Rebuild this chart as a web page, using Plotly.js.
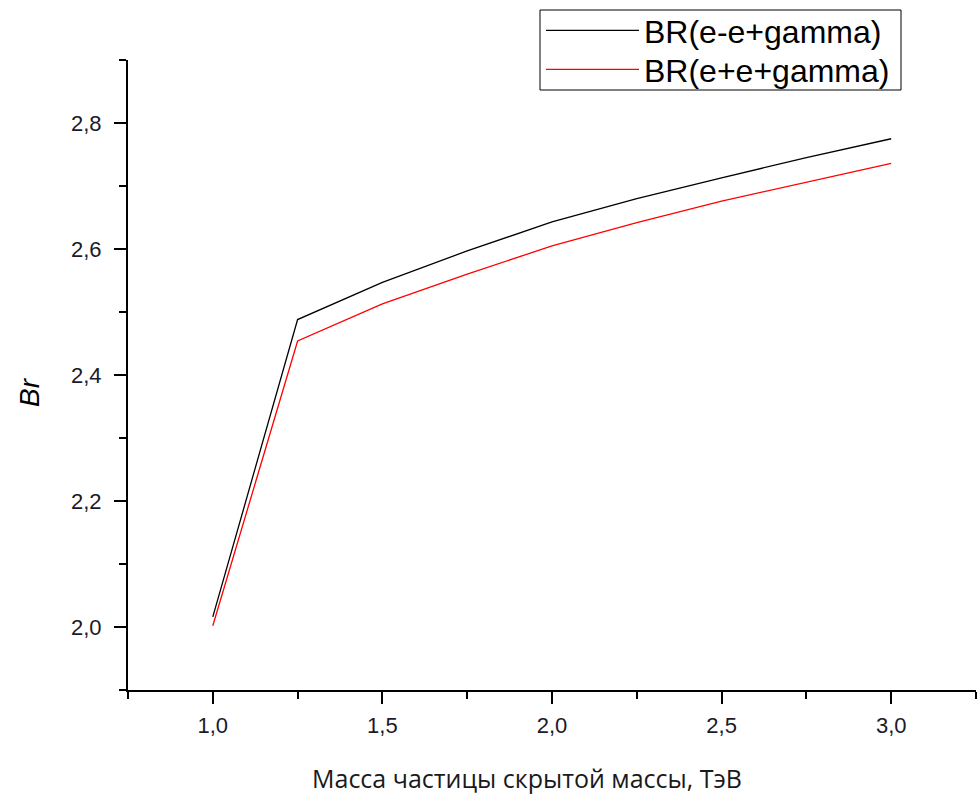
<!DOCTYPE html>
<html>
<head>
<meta charset="utf-8">
<script src="https://cdn.plot.ly/plotly-3.0.1.min.js"></script>
<style>html,body{margin:0;padding:0;background:#fff;}#chart{width:979px;height:796px;}</style>
</head>
<body>
<div id="chart"></div>
<script>
const mass = [1.0, 1.25, 1.5, 1.75, 2.0, 2.25, 2.5, 2.75, 3.0];
const brEminusEplus = [2.016, 2.488, 2.547, 2.597, 2.643, 2.680, 2.713, 2.745, 2.775];
const brEplusEplus = [2.002, 2.454, 2.513, 2.560, 2.605, 2.642, 2.676, 2.706, 2.736];
const seriesNames = ['BR(e-e+gamma)', 'BR(e+e+gamma)'];
const xTitle = 'Масса частицы скрытой массы, ТэВ';
const yTitle = '<i>Br</i>';

const traces = [
  {x: mass, y: brEminusEplus, name: seriesNames[0], mode: 'lines', legend: 'legend',
   line: {color: '#000000', width: 1.3}},
  {x: mass, y: brEplusEplus, name: seriesNames[1], mode: 'lines', legend: 'legend2',
   line: {color: '#ff0000', width: 1.3}}
];

const legFont = {family: 'Liberation Sans, Arial, sans-serif', size: 32, color: '#000000'};
const tickFont = {family: 'Liberation Sans, Arial, sans-serif', size: 22, color: '#1a1a2a'};
const M = {l: 128, r: 3, t: 60, b: 106};
const W = 979, H = 796;
const pw = W - M.l - M.r, ph = H - M.t - M.b;
const px = v => (v - M.l) / pw;
const py = v => (H - M.b - v) / ph;

const layout = {
  width: W, height: H,
  margin: M,
  paper_bgcolor: '#ffffff', plot_bgcolor: '#ffffff',
  separators: ',.',
  showlegend: true,
  legend: {
    x: px(541), y: py(3), xanchor: 'left', yanchor: 'top',
    borderwidth: 0, bgcolor: 'rgba(0,0,0,0)', font: legFont, itemwidth: 93
  },
  legend2: {
    x: px(541), y: py(42), xanchor: 'left', yanchor: 'top',
    borderwidth: 0, bgcolor: 'rgba(0,0,0,0)', font: legFont, itemwidth: 93
  },
  shapes: [{
    type: 'rect', xref: 'paper', yref: 'paper',
    x0: px(540), x1: px(901), y0: py(90), y1: py(10),
    line: {color: '#000000', width: 1}, fillcolor: 'rgba(0,0,0,0)', layer: 'above'
  }],
  annotations: [
    {text: xTitle, xref: 'paper', yref: 'paper', x: px(527), y: py(778),
     xanchor: 'center', yanchor: 'middle', showarrow: false,
     font: {family: 'Open Sans, sans-serif', size: 25, color: '#1a1a1a'}},
    {text: yTitle, xref: 'paper', yref: 'paper', x: px(29), y: py(392),
     xanchor: 'center', yanchor: 'middle', showarrow: false, textangle: -90,
     font: {family: 'Liberation Sans, Arial, sans-serif', size: 28, color: '#000'}}
  ],
  xaxis: {
    range: [0.75, 3.25], tick0: 1.0, dtick: 0.5, tickformat: '.1f',
    showgrid: false, zeroline: false, showline: true, linecolor: '#000', linewidth: 2,
    ticks: 'outside', ticklen: 12, tickwidth: 2, tickcolor: '#000',
    minor: {ticks: 'outside', ticklen: 7, tickwidth: 2, tickcolor: '#000', dtick: 0.25, tick0: 0.75, showgrid: false},
    tickfont: tickFont, ticklabelstandoff: 3
  },
  yaxis: {
    range: [1.9, 2.9], tick0: 2.0, dtick: 0.2, tickformat: '.1f',
    showgrid: false, zeroline: false, showline: true, linecolor: '#000', linewidth: 2,
    ticks: 'outside', ticklen: 12, tickwidth: 2, tickcolor: '#000',
    minor: {ticks: 'outside', ticklen: 7, tickwidth: 2, tickcolor: '#000', dtick: 0.1, tick0: 1.9, showgrid: false},
    tickfont: tickFont, ticklabelstandoff: 8
  }
};

Plotly.newPlot('chart', traces, layout, {displayModeBar: false, staticPlot: true});
</script>
</body>
</html>
